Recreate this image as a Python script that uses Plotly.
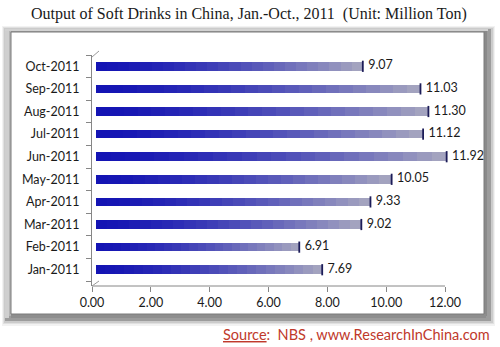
import plotly.graph_objects as go

months = ["Jan-2011", "Feb-2011", "Mar-2011", "Apr-2011", "May-2011",
          "Jun-2011", "Jul-2011", "Aug-2011", "Sep-2011", "Oct-2011"]
output = [7.69, 6.91, 9.02, 9.33, 10.05, 11.92, 11.12, 11.30, 11.03, 9.07]
x_ticks = [0, 2, 4, 6, 8, 10, 12]
x_ticklabels = ["0.00", "2.00", "4.00", "6.00", "8.00", "10.00", "12.00"]

W, H = 500, 347
L, R, T, B = 92, 455, 55, 286
XMAX = 12 * (R - L) / (445 - L)   # axis scale: 12.00 sits at x=445px

def px2x(px):
    return (px - L) / (R - L)

def py2y(py):
    return (B - py) / (B - T)

fig = go.Figure()

# gradient bars: each bar split into stacked segments with shifting colour
N = 24
c0 = (20, 20, 180)
c1 = (168, 168, 192)
for k in range(N):
    t = (k + 0.5) / N
    tt = t ** 1.5
    col = "rgb(%d,%d,%d)" % tuple(int(c0[i] + (c1[i] - c0[i]) * tt) for i in range(3))
    fig.add_trace(go.Bar(
        x=[v / N for v in output], y=months, orientation="h",
        marker=dict(color=col, line=dict(width=0)),
        xaxis="x2", showlegend=False, hoverinfo="skip",
    ))

# dark end cap outline
fig.add_trace(go.Scatter(
    x=output, y=months, mode="markers", xaxis="x2",
    marker=dict(symbol="line-ns", size=8, line=dict(color="#1c1c58", width=1.8)),
    showlegend=False, hoverinfo="skip", cliponaxis=False,
))

# value labels
fig.add_trace(go.Scatter(
    x=output, y=months, mode="markers+text", xaxis="x2",
    marker=dict(size=7, color="rgba(0,0,0,0)"),
    text=["%.2f" % v for v in output],
    textposition="middle right", cliponaxis=False,
    textfont=dict(family="Lato", size=12.5, color="#1a1a1a"),
    showlegend=False, hoverinfo="skip",
))

# anchor trace for the main x axis (no visible marks)
fig.add_trace(go.Scatter(
    x=[0], y=[months[0]], mode="markers",
    marker=dict(size=1, color="rgba(0,0,0,0)"),
    showlegend=False, hoverinfo="skip",
))

shapes = []
def rect(x0, y0, x1, y1, fill, line=None, lw=0):
    shapes.append(dict(type="rect", xref="paper", yref="paper",
                       x0=px2x(x0), x1=px2x(x1), y0=py2y(y1), y1=py2y(y0),
                       fillcolor=fill, line=dict(color=line or fill, width=lw),
                       layer="below"))

# soft shadow
rect(2, 26, 495, 326, "rgba(0,0,0,0.05)")
rect(3, 27, 494, 324, "rgba(0,0,0,0.07)")
rect(4, 28, 493, 323, "rgba(0,0,0,0.09)")
# frame
rect(5, 29, 491, 321, "#9c9c9c")
rect(5, 29, 9, 318, "#cfcfcf")
rect(9, 29, 11, 316, "#b4b4b4")
rect(5, 29, 488, 31, "#d2d2d2")
rect(484, 31, 487, 316, "#8a8a8a")
rect(11, 314, 486, 318, "#8e8e8e")
rect(11, 32, 484, 314, "#ffffff", line="#7a7a7a", lw=1)

# x axis line from 0 to 12
shapes.append(dict(type="line", xref="x", yref="paper", x0=0, x1=12, y0=0, y1=0,
                   line=dict(color="#868686", width=1)))
# 3D corner hints
shapes.append(dict(type="line", xref="paper", yref="paper",
                   x0=px2x(92), y0=py2y(57), x1=px2x(99), y1=py2y(51),
                   line=dict(color="#9a9a9a", width=1)))
shapes.append(dict(type="line", xref="paper", yref="paper",
                   x0=px2x(92), y0=py2y(286), x1=px2x(99), y1=py2y(281),
                   line=dict(color="#9a9a9a", width=1)))

annotations = [
    dict(text="Output of Soft Drinks in China, Jan.-Oct., 2011\u00a0\u00a0(Unit: Million Ton)",
         xref="paper", yref="paper", x=px2x(249), y=py2y(14),
         xanchor="center", yanchor="middle", showarrow=False,
         font=dict(family="Liberation Serif", size=16, color="#1a1a1a")),
    dict(text="<u>Source</u>:\u00a0\u00a0NBS , www.ResearchInChina.com",
         xref="paper", yref="paper", x=px2x(492), y=py2y(334),
         xanchor="right", yanchor="middle", showarrow=False,
         font=dict(family="Lato", size=14.5, color="#c0392b")),
]

fig.update_layout(
    width=W, height=H, autosize=False,
    margin=dict(l=L, r=W - R, t=T, b=H - B, pad=0),
    paper_bgcolor="white", plot_bgcolor="rgba(0,0,0,0)",
    barmode="stack", bargap=0.62,
    shapes=shapes, annotations=annotations,
    xaxis=dict(range=[0, XMAX], tickvals=x_ticks, ticktext=x_ticklabels,
               showgrid=False, zeroline=False, showline=False,
               ticks="outside", ticklen=5, tickcolor="#868686",
               tickfont=dict(family="Lato", size=12.5, color="#1a1a1a")),
    xaxis2=dict(range=[-0.136, XMAX - 0.136], overlaying="x", visible=False),
    yaxis=dict(type="category", categoryorder="array", categoryarray=months,
               range=[-0.72, 9.5], showgrid=False, zeroline=False,
               showline=True, linecolor="#868686", linewidth=1,
               ticks="outside", ticklen=5, tickcolor="#868686",
               tickson="boundaries", ticklabelstandoff=9,
               tickfont=dict(family="Lato", size=12.5, color="#1a1a1a")),
)

fig.write_html("out.html")
